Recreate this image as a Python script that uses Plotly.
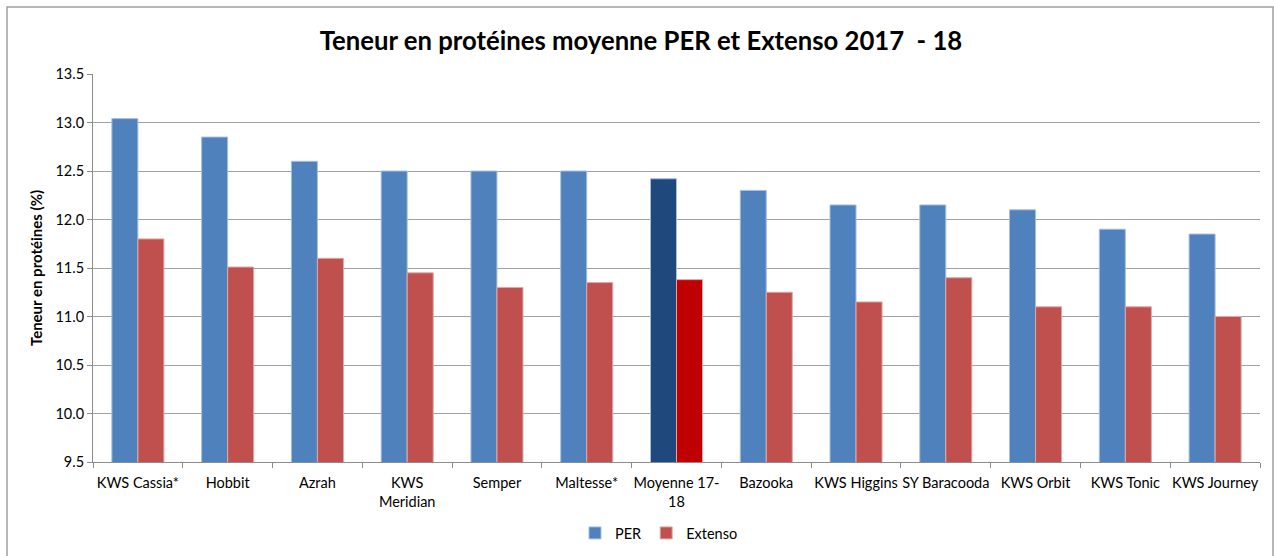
import plotly.graph_objects as go

categories = ["KWS Cassia*", "Hobbit", "Azrah", "KWS<br>Meridian", "Semper", "Maltesse*",
              "Moyenne 17-<br>18", "Bazooka", "KWS Higgins", "SY Baracooda", "KWS Orbit",
              "KWS Tonic", "KWS Journey"]
per = [13.04, 12.85, 12.60, 12.50, 12.50, 12.50, 12.42, 12.30, 12.15, 12.15, 12.10, 11.90, 11.85]
extenso = [11.80, 11.51, 11.60, 11.45, 11.30, 11.35, 11.38, 11.25, 11.15, 11.40, 11.10, 11.10, 11.00]
y_ticks = [9.5, 10.0, 10.5, 11.0, 11.5, 12.0, 12.5, 13.0, 13.5]

per_colors = ["#1F497D" if c.startswith("Moyenne") else "#4F81BD" for c in categories]
ext_colors = ["#C00000" if c.startswith("Moyenne") else "#C0504D" for c in categories]

W, H = 1274, 556
L, R, T, B = 93, 14, 74, 94
PW, PH = W - L - R, H - T - B

fig = go.Figure()
fig.add_trace(go.Bar(x=categories, y=per, name="PER",
                     marker=dict(color=per_colors, line=dict(color="#A7C0DE", width=1))))
fig.add_trace(go.Bar(x=categories, y=extenso, name="Extenso",
                     marker=dict(color=ext_colors, line=dict(color="#DDA9A8", width=1))))

fig.update_layout(
    width=W, height=H,
    margin=dict(l=L, r=R, t=T, b=B, autoexpand=False),
    paper_bgcolor="white", plot_bgcolor="white",
    barmode="group", bargap=0.42, bargroupgap=0,
    font=dict(family="Lato, Carlito, Calibri, sans-serif", size=14, color="#000000"),
    title=dict(text="<b>Teneur en protéines moyenne PER et Extenso 2017  - 18</b>",
               x=(641 - L) / PW, xref="paper", xanchor="center", y=1 - 41 / H, yanchor="middle",
               font=dict(size=25.7, color="#000000")),
    legend=dict(orientation="h", x=(575 - L) / PW, xanchor="left", y=-(533 - 462) / PH,
                yanchor="middle", font=dict(size=14.5), itemwidth=30, traceorder="normal",
                tracegroupgap=0),
    shapes=[dict(type="rect", xref="paper", yref="paper",
                 x0=(7 - L) / PW, x1=(1273 - L) / PW,
                 y0=-(H + 5 - (H - B)) / PH, y1=1 + (T - 7) / PH,
                 line=dict(color="#A0A0A0", width=1.5), fillcolor="rgba(0,0,0,0)", layer="below")],
)
fig.update_yaxes(range=[9.5, 13.5], tickvals=y_ticks, automargin=False,
                 ticktext=[f"{v:.1f}" for v in y_ticks],
                 showgrid=True, gridcolor="#A0A0A0", gridwidth=1,
                 showline=True, linecolor="#8C8C8C", linewidth=1,
                 ticks="outside", ticklen=5, tickcolor="#8C8C8C",
                 tickfont=dict(size=14.5),
                 title=dict(text="<b>Teneur en protéines (%)</b>", font=dict(size=15), standoff=9),
                 zeroline=False)
fig.update_xaxes(showline=True, linecolor="#8C8C8C", linewidth=1, automargin=False,
                 ticks="outside", tickson="boundaries", ticklen=5, tickcolor="#8C8C8C",
                 ticklabelstandoff=8,
                 tickfont=dict(size=14.5), tickangle=0, showgrid=False)

fig.write_html("out.html", config={"displayModeBar": False},
               post_script="document.body.style.margin='0';")
